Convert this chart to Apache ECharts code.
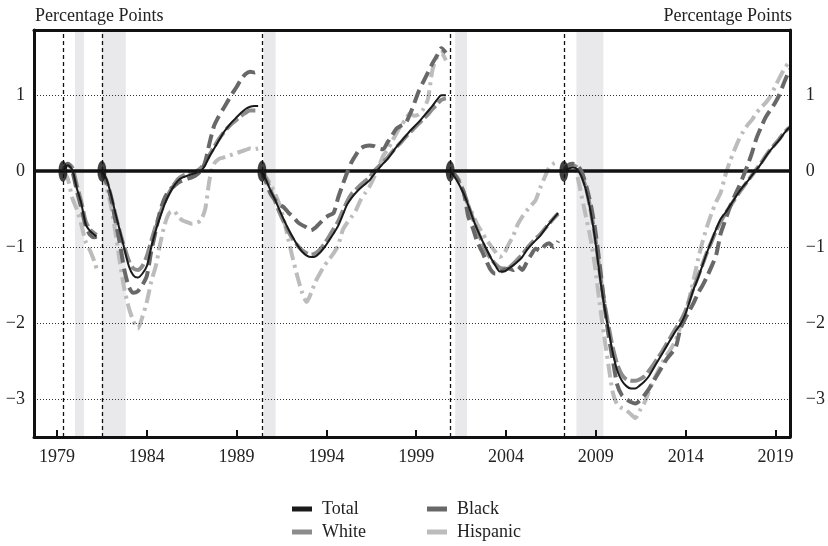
<!DOCTYPE html>
<html>
<head>
<meta charset="utf-8">
<script src="https://cdn.jsdelivr.net/npm/echarts@6/dist/echarts.min.js"></script>
<style>html,body{margin:0;padding:0;background:#fff}#c{width:828px;height:546px}</style>
</head>
<body>
<div id="c"></div>
<script>
// ---- data (decimal years; null marks a break between cycles) ----
const years = [
  1979.35,1979.6,1979.85,1980.1,1980.35,1980.6,1980.85,1981.1,1981.2,
  null,
  1981.5,1981.75,1982,1982.25,1982.5,1982.75,1983,1983.25,1983.5,1983.75,1984,1984.25,1984.5,1984.75,1985,1985.25,1985.5,1985.75,1986,1986.25,1986.5,1986.75,1987,1987.25,1987.5,1987.75,1988,1988.25,1988.5,1988.75,1989,1989.25,1989.5,1989.75,1990,1990.2,
  null,
  1990.4,1990.65,1990.9,1991.15,1991.4,1991.65,1991.9,1992.15,1992.4,1992.65,1992.9,1993.15,1993.4,1993.65,1993.9,1994.15,1994.4,1994.65,1994.9,1995.15,1995.4,1995.65,1995.9,1996.15,1996.4,1996.65,1996.9,1997.15,1997.4,1997.65,1997.9,1998.15,1998.4,1998.65,1998.9,1999.15,1999.4,1999.65,1999.9,2000.15,2000.4,2000.65,
  null,
  2000.9,2001.15,2001.4,2001.65,2001.9,2002.15,2002.4,2002.65,2002.9,2003.15,2003.4,2003.65,2003.9,2004.15,2004.4,2004.65,2004.9,2005.15,2005.4,2005.65,2005.9,2006.15,2006.4,2006.65,2006.9,
  null,
  2007.2,2007.45,2007.7,2007.95,2008.2,2008.45,2008.7,2008.95,2009.2,2009.45,2009.7,2009.95,2010.2,2010.45,2010.7,2010.95,2011.2,2011.45,2011.7,2011.95,2012.2,2012.45,2012.7,2012.95,2013.2,2013.45,2013.7,2013.95,2014.2,2014.45,2014.7,2014.95,2015.2,2015.45,2015.7,2015.95,2016.2,2016.45,2016.7,2016.95,2017.2,2017.45,2017.7,2017.95,2018.2,2018.45,2018.7,2018.95,2019.2,2019.45,2019.7,2019.85
];

const total = [
  0,0.08,0.02,-0.22,-0.42,-0.7,-0.79,-0.84,-0.86,
  null,
  0,-0.1,-0.3,-0.55,-0.78,-1.02,-1.25,-1.37,-1.4,-1.35,-1.25,-1.0,-0.78,-0.6,-0.43,-0.3,-0.2,-0.12,-0.08,-0.06,-0.04,-0.02,0,0.08,0.2,0.3,0.4,0.5,0.58,0.65,0.71,0.77,0.82,0.85,0.86,0.86,
  null,
  0,-0.12,-0.26,-0.38,-0.52,-0.65,-0.77,-0.88,-0.98,-1.06,-1.11,-1.13,-1.12,-1.07,-1.0,-0.91,-0.82,-0.72,-0.58,-0.44,-0.35,-0.28,-0.22,-0.17,-0.12,-0.04,0.03,0.1,0.16,0.24,0.32,0.39,0.46,0.53,0.59,0.65,0.72,0.79,0.86,0.94,1.0,1.0,
  null,
  0,-0.08,-0.18,-0.3,-0.45,-0.62,-0.77,-0.9,-1.02,-1.14,-1.24,-1.32,-1.32,-1.28,-1.24,-1.19,-1.13,-1.04,-0.97,-0.91,-0.85,-0.77,-0.69,-0.62,-0.55,
  null,
  0,0.03,0.05,0.03,-0.07,-0.25,-0.52,-0.88,-1.35,-1.75,-2.08,-2.4,-2.63,-2.76,-2.83,-2.86,-2.86,-2.82,-2.77,-2.7,-2.6,-2.5,-2.4,-2.3,-2.2,-2.1,-2.02,-1.9,-1.73,-1.55,-1.4,-1.23,-1.06,-0.91,-0.76,-0.63,-0.55,-0.46,-0.37,-0.28,-0.2,-0.13,-0.05,0.02,0.1,0.19,0.27,0.34,0.41,0.49,0.56,0.58
];

const white = [
  0,0.1,0.05,-0.18,-0.4,-0.66,-0.77,-0.82,-0.84,
  null,
  0,-0.12,-0.32,-0.57,-0.8,-1.0,-1.18,-1.28,-1.3,-1.25,-1.12,-0.92,-0.72,-0.55,-0.4,-0.28,-0.18,-0.1,-0.06,-0.04,-0.02,0,0.04,0.12,0.22,0.32,0.42,0.5,0.57,0.63,0.68,0.73,0.77,0.8,0.8,0.8,
  null,
  0,-0.1,-0.25,-0.4,-0.55,-0.68,-0.8,-0.9,-0.98,-1.04,-1.08,-1.1,-1.08,-1.03,-0.95,-0.86,-0.76,-0.66,-0.53,-0.4,-0.3,-0.24,-0.18,-0.13,-0.08,0,0.06,0.12,0.18,0.25,0.32,0.38,0.45,0.51,0.57,0.63,0.69,0.75,0.82,0.88,0.94,0.96,
  null,
  0,-0.05,-0.15,-0.28,-0.45,-0.62,-0.78,-0.92,-1.05,-1.15,-1.22,-1.27,-1.28,-1.27,-1.22,-1.16,-1.1,-1.02,-0.95,-0.89,-0.83,-0.76,-0.69,-0.62,-0.56,
  null,
  0,0.06,0.08,0.05,-0.05,-0.22,-0.5,-0.85,-1.3,-1.7,-2.03,-2.33,-2.55,-2.68,-2.74,-2.76,-2.76,-2.74,-2.7,-2.63,-2.55,-2.46,-2.37,-2.27,-2.17,-2.07,-1.98,-1.86,-1.7,-1.53,-1.38,-1.22,-1.06,-0.92,-0.78,-0.66,-0.56,-0.47,-0.38,-0.29,-0.21,-0.13,-0.05,0.03,0.11,0.2,0.28,0.35,0.42,0.5,0.56,0.59
];

const black = [
  0,0.1,0,-0.25,-0.48,-0.72,-0.84,-0.87,-0.86,
  null,
  0,-0.15,-0.35,-0.65,-0.95,-1.3,-1.52,-1.6,-1.58,-1.5,-1.38,-1.05,-0.78,-0.52,-0.35,-0.25,-0.2,-0.15,-0.12,-0.1,-0.08,-0.05,0,0.12,0.38,0.6,0.72,0.82,0.92,1.02,1.11,1.21,1.28,1.31,1.3,1.32,
  null,
  0,-0.15,-0.3,-0.38,-0.44,-0.48,-0.55,-0.6,-0.67,-0.71,-0.74,-0.78,-0.74,-0.68,-0.62,-0.58,-0.55,-0.35,-0.18,-0.02,0.12,0.22,0.3,0.33,0.34,0.33,0.3,0.29,0.38,0.47,0.56,0.6,0.63,0.75,0.9,1.06,1.18,1.3,1.42,1.52,1.62,1.56,
  null,
  0,-0.05,-0.15,-0.28,-0.6,-0.75,-0.93,-1.05,-1.18,-1.3,-1.35,-1.33,-1.3,-1.28,-1.3,-1.25,-1.3,-1.2,-1.1,-1.02,-1.05,-0.98,-0.95,-1.0,-0.92,
  null,
  0,0.08,0.1,0.08,0,-0.18,-0.42,-0.75,-1.2,-1.7,-2.15,-2.5,-2.82,-2.95,-3.0,-3.04,-3.06,-3.02,-2.95,-2.87,-2.77,-2.67,-2.57,-2.47,-2.4,-2.32,-2.08,-1.95,-1.84,-1.73,-1.6,-1.5,-1.38,-1.25,-1.1,-0.82,-0.65,-0.48,-0.34,-0.21,-0.07,0.08,0.25,0.44,0.58,0.71,0.8,0.89,1.0,1.15,1.29,1.35
];

const hispanic = [
  0,-0.1,-0.35,-0.5,-0.7,-0.93,-1.05,-1.2,-1.28,
  null,
  0,-0.2,-0.45,-0.8,-1.2,-1.55,-1.8,-1.97,-2.07,-1.92,-1.72,-1.45,-1.25,-0.95,-0.7,-0.55,-0.52,-0.6,-0.65,-0.67,-0.69,-0.68,-0.65,-0.5,-0.1,0.1,0.16,0.18,0.2,0.22,0.24,0.26,0.28,0.3,0.29,0.3,
  null,
  0,-0.08,-0.18,-0.3,-0.45,-0.66,-0.92,-1.17,-1.4,-1.6,-1.72,-1.6,-1.45,-1.34,-1.24,-1.16,-1.08,-0.98,-0.78,-0.68,-0.6,-0.51,-0.38,-0.29,-0.2,-0.08,0.05,0.2,0.28,0.39,0.5,0.6,0.68,0.76,0.73,0.75,0.82,0.95,1.33,1.5,1.56,1.46,
  null,
  0,-0.05,-0.12,-0.3,-0.45,-0.57,-0.7,-0.8,-0.9,-0.98,-1.06,-1.13,-1.08,-0.96,-0.85,-0.7,-0.6,-0.52,-0.45,-0.38,-0.22,-0.08,0.05,0.1,0.12,
  null,
  0,0.08,0.1,-0.05,-0.32,-0.6,-0.88,-1.25,-1.72,-2.15,-2.55,-2.92,-3.08,-3.12,-3.15,-3.2,-3.25,-3.15,-3.05,-2.9,-2.76,-2.64,-2.52,-2.42,-2.33,-2.22,-2.05,-1.9,-1.68,-1.42,-1.15,-0.92,-0.72,-0.55,-0.4,-0.28,-0.06,0.12,0.27,0.41,0.52,0.61,0.68,0.77,0.84,0.9,0.98,1.1,1.22,1.33,1.42,1.45
];

const peaks = [1979.33, 1981.5, 1990.41, 2000.89, 2007.22];
const recessions = [[1980.0, 1980.5], [1981.5, 1982.83], [1990.5, 1991.17], [2001.17, 2001.83], [2007.92, 2009.42]];
const xTicks = [1979, 1984, 1989, 1994, 1999, 2004, 2009, 2014, 2019];
const yTicks = [-3, -2, -1, 0, 1];
const gridLevels = [1, -1, -2, -3];
const seriesNames = ['Total', 'White', 'Black', 'Hispanic'];

// ---- chart ----
const FONT = '"Liberation Serif", "DejaVu Serif", serif';
const TXT = '#222';
const FS = 18;
const XMIN = 1977.72, XMAX = 2019.8, YMIN = -3.5, YMAX = 1.86;

function pairs(vals) {
  return years.map((x, i) => (x === null ? ['-', '-'] : [x, vals[i]]));
}
const fmtY = v => String(v).replace('-', '\u2212');
const fmtX = v => String(v);

const chart = echarts.init(document.getElementById('c'), null, { renderer: 'canvas' });

function lineSeries(name, vals, color, width, dash, z) {
  return {
    name, type: 'line', data: pairs(vals), z,
    showSymbol: false, symbol: 'none', smooth: 0.25,
    connectNulls: false, silent: true,
    itemStyle: { color },
    lineStyle: { color, width, type: dash, cap: 'butt', join: 'round' }
  };
}

function legendAt(name, left, top) {
  return {
    data: [name], left, top, orient: 'horizontal', icon: 'rect', padding: 0,
    itemWidth: 20, itemHeight: 5, selectedMode: false,
    itemStyle: { borderWidth: 0 },
    textStyle: { fontFamily: FONT, fontSize: FS, color: TXT, padding: [0, 0, 0, 5] }
  };
}

const option = {
  animation: false,
  backgroundColor: '#fff',
  textStyle: { fontFamily: FONT },
  title: [
    { text: 'Percentage Points', left: 35, top: 7, padding: 0, textStyle: { fontFamily: FONT, fontSize: FS, fontWeight: 'normal', color: TXT } },
    { text: 'Percentage Points', right: 36, top: 7, padding: 0, textStyle: { fontFamily: FONT, fontSize: FS, fontWeight: 'normal', color: TXT } }
  ],
  legend: [
    legendAt(seriesNames[0], 292, 500),
    legendAt(seriesNames[1], 292, 523),
    legendAt(seriesNames[2], 427, 500),
    legendAt(seriesNames[3], 427, 523)
  ],
  grid: { left: 34, right: 37, top: 30, bottom: 109, containLabel: false },
  xAxis: [
    {
      type: 'value', min: XMIN, max: XMAX, position: 'bottom', z: 10,
      axisLine: { show: true, onZero: false, lineStyle: { color: '#111', width: 3 } },
      axisTick: { show: true, inside: true, length: 7, customValues: xTicks, lineStyle: { color: '#111', width: 2 } },
      axisLabel: { show: true, customValues: xTicks, margin: 11, fontFamily: FONT, fontSize: FS, color: TXT, formatter: fmtX },
      splitLine: { show: false }
    },
    {
      type: 'value', min: XMIN, max: XMAX, position: 'top', z: 10,
      axisLine: { show: true, onZero: false, lineStyle: { color: '#111', width: 3 } },
      axisTick: { show: false }, axisLabel: { show: false }, splitLine: { show: false }
    }
  ],
  yAxis: [
    {
      type: 'value', min: YMIN, max: YMAX, position: 'left', z: 10,
      axisLine: { show: true, onZero: false, lineStyle: { color: '#111', width: 3 } },
      axisTick: { show: false, customValues: yTicks },
      axisLabel: { show: true, customValues: yTicks, margin: 9, fontFamily: FONT, fontSize: FS, color: TXT, formatter: fmtY },
      splitLine: { show: false }
    },
    {
      type: 'value', min: YMIN, max: YMAX, position: 'right', z: 10,
      axisLine: { show: true, onZero: false, lineStyle: { color: '#111', width: 3 } },
      axisTick: { show: false, customValues: yTicks },
      axisLabel: { show: true, customValues: yTicks, margin: 16, fontFamily: FONT, fontSize: FS, color: TXT, formatter: fmtY },
      splitLine: { show: false }
    }
  ],
  series: [
    {
      name: 'bg', type: 'line', data: [], z: 1, silent: true, symbol: 'none',
      markArea: {
        silent: true,
        itemStyle: { color: '#e9e9ec' },
        data: recessions.map(r => [{ xAxis: r[0] }, { xAxis: r[1] }])
      },
      markLine: {
        silent: true, symbol: 'none', animation: false,
        label: { show: false },
        data: gridLevels.map(v => ({ yAxis: v, lineStyle: { color: '#333', width: 1, type: [1, 2] } }))
          .concat(peaks.map(p => ({ xAxis: p, lineStyle: { color: '#111', width: 1.3, type: [4, 3] } })))
      }
    },
    lineSeries('Hispanic', hispanic, '#bcbcbc', 4, [14, 5, 3, 5], 3),
    lineSeries('White', white, '#8c8c8c', 4, [16, 4], 4),
    lineSeries('Black', black, '#686868', 4, [14, 6], 5),
    {
      name: 'zero', type: 'line', data: [], z: 6, silent: true, symbol: 'none',
      markLine: {
        silent: true, symbol: 'none', animation: false, label: { show: false },
        data: [{ yAxis: 0, lineStyle: { color: '#111', width: 3.5, type: 'solid' } }]
      }
    },
    lineSeries('Total', total, '#1a1a1a', 2, 'solid', 7),
    {
      name: 'peakMarks', type: 'scatter', z: 8, silent: true,
      symbol: 'circle', symbolSize: [9, 21],
      itemStyle: { color: '#111' },
      data: peaks.map(p => [p, 0])
    }
  ]
};
chart.setOption(option);
</script>
</body>
</html>
